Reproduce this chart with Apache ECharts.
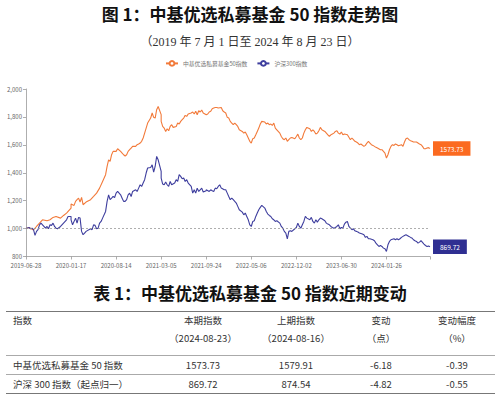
<!DOCTYPE html>
<html>
<head>
<meta charset="utf-8">
<script src="https://cdn.jsdelivr.net/npm/echarts@6/dist/echarts.min.js"></script>
<style>
  html, body { margin: 0; padding: 0; background: #fff; }
  #main { width: 500px; height: 399px; }
</style>
</head>
<body>
<div id="main"></div>
<script>
// tick labels sit every 30 points on the category axis
var tickLabels = ['2019-06-28', '2020-01-17', '2020-08-14', '2021-03-05', '2021-09-24',
  '2022-05-06', '2022-12-02', '2023-06-30', '2024-01-26'];
var lastDate = '2024-08-23';

var seriesNames = ['中基优选私募基金50指数', '沪深300指数'];

// [point index, value]
var fund50 = [[0,1000],[2,1008],[4,995],[5,990],[7,1015],[9,1039],[11,1063],[14,1056],[16,1063],[18,1080],[20,1087],[23,1075],[25,1094],[27,1111],[29,1147],[30,1176],[32,1166],[33,1195],[34,1207],[35,1218],[36,1190],[37,1223],[38,1171],[40,1190],[43,1207],[45,1230],[47,1254],[49,1290],[51,1338],[53,1386],[54,1445],[55,1493],[56,1481],[57,1529],[58,1553],[60,1553],[61,1572],[63,1553],[64,1541],[65,1529],[66,1520],[67,1529],[68,1553],[69,1565],[70,1577],[71,1589],[73,1589],[74,1601],[75,1606],[76,1613],[77,1625],[78,1649],[79,1684],[80,1720],[81,1756],[83,1792],[84,1828],[85,1797],[86,1792],[87,1852],[88,1875],[89,1816],[90,1768],[91,1732],[92,1720],[93,1696],[94,1715],[95,1701],[96,1732],[97,1744],[98,1725],[100,1732],[101,1756],[102,1749],[103,1768],[104,1780],[105,1792],[106,1811],[107,1804],[108,1821],[110,1828],[111,1835],[112,1821],[113,1840],[114,1816],[115,1844],[116,1835],[117,1849],[118,1828],[120,1816],[121,1821],[122,1835],[123,1840],[124,1859],[125,1864],[126,1868],[127,1868],[128,1864],[130,1868],[131,1844],[132,1835],[133,1828],[134,1797],[135,1792],[136,1768],[137,1756],[138,1744],[139,1756],[140,1744],[141,1732],[142,1708],[144,1696],[145,1684],[146,1692],[147,1672],[148,1649],[149,1625],[150,1613],[151,1644],[152,1649],[153,1672],[154,1696],[155,1720],[156,1749],[157,1768],[159,1763],[160,1749],[161,1756],[162,1744],[163,1749],[164,1739],[165,1756],[166,1720],[167,1708],[169,1684],[170,1660],[171,1644],[172,1637],[173,1649],[174,1625],[175,1637],[176,1649],[177,1653],[179,1644],[180,1660],[181,1677],[182,1649],[183,1637],[184,1649],[185,1684],[186,1708],[187,1725],[189,1715],[190,1696],[191,1708],[192,1696],[193,1677],[194,1684],[195,1701],[196,1725],[197,1708],[199,1696],[200,1684],[201,1672],[202,1660],[203,1672],[204,1677],[205,1684],[206,1696],[207,1701],[208,1684],[209,1677],[210,1692],[211,1672],[212,1677],[214,1672],[216,1637],[217,1649],[218,1637],[219,1625],[220,1620],[221,1613],[222,1601],[223,1606],[225,1589],[226,1596],[227,1613],[228,1625],[229,1613],[230,1601],[231,1596],[232,1589],[233,1582],[234,1577],[236,1565],[237,1565],[238,1553],[239,1541],[240,1505],[241,1529],[242,1565],[243,1589],[244,1601],[245,1596],[246,1606],[247,1601],[248,1594],[250,1601],[251,1589],[252,1620],[253,1644],[254,1649],[255,1637],[256,1630],[257,1625],[258,1620],[260,1620],[261,1613],[262,1606],[263,1601],[264,1589],[265,1572],[266,1572],[267,1577],[268,1579.91],[269,1573.73]];

var hs300 = [[0,1000],[2,1008],[3,999],[4,1003],[5,992],[6,951],[7,980],[8,992],[9,1027],[10,1039],[11,1027],[13,1003],[14,1015],[15,999],[16,1027],[17,1023],[18,1039],[19,1015],[20,1003],[21,999],[23,1015],[25,1039],[27,1063],[28,1087],[29,1087],[30,1063],[31,1027],[33,1075],[34,1039],[35,1080],[36,1075],[37,980],[38,956],[39,968],[40,980],[43,999],[44,992],[45,1027],[46,1023],[47,999],[48,1003],[49,1039],[50,1051],[51,1075],[53,1123],[54,1195],[55,1242],[56,1207],[57,1218],[58,1230],[59,1223],[60,1254],[61,1266],[63,1242],[64,1218],[65,1195],[66,1195],[67,1207],[68,1242],[69,1254],[70,1230],[71,1266],[73,1278],[74,1266],[75,1290],[76,1314],[77,1302],[78,1326],[79,1350],[80,1398],[81,1434],[83,1438],[84,1457],[85,1405],[86,1445],[87,1517],[88,1493],[89,1410],[90,1362],[91,1319],[92,1314],[93,1333],[94,1314],[95,1302],[96,1338],[97,1314],[99,1326],[100,1350],[101,1338],[102,1386],[103,1374],[104,1357],[105,1362],[106,1338],[107,1350],[108,1326],[110,1302],[111,1254],[112,1278],[113,1254],[114,1290],[115,1266],[116,1278],[117,1290],[118,1262],[119,1271],[120,1278],[122,1266],[123,1278],[124,1271],[125,1266],[126,1290],[127,1285],[128,1302],[129,1314],[130,1290],[132,1278],[133,1278],[134,1254],[135,1230],[136,1207],[137,1218],[138,1207],[139,1195],[140,1183],[141,1159],[142,1135],[144,1118],[145,1099],[146,1111],[147,1087],[148,1063],[149,1027],[150,1015],[151,1051],[152,1056],[153,1087],[154,1111],[155,1135],[156,1152],[157,1166],[159,1147],[160,1123],[161,1104],[162,1094],[163,1087],[164,1070],[165,1063],[166,1051],[167,1056],[169,1039],[170,1015],[171,1003],[172,980],[173,968],[174,927],[175,980],[176,984],[177,980],[179,999],[180,1008],[181,1039],[182,1015],[183,1003],[184,1027],[185,1051],[186,1087],[187,1075],[189,1063],[190,1080],[191,1051],[192,1039],[193,1063],[194,1046],[195,1063],[196,1075],[197,1070],[199,1056],[200,1039],[201,1032],[202,1027],[203,1015],[204,1008],[205,1003],[206,1008],[207,1015],[208,1027],[209,999],[210,1008],[211,1003],[212,1032],[213,1046],[214,1051],[215,1015],[216,1003],[217,992],[218,999],[219,984],[220,980],[221,975],[222,968],[224,961],[225,956],[226,937],[227,944],[228,927],[229,927],[231,920],[232,913],[233,896],[234,884],[235,872],[236,879],[237,872],[238,860],[239,855],[240,836],[241,884],[242,908],[243,920],[245,927],[246,920],[247,927],[248,920],[249,927],[250,937],[251,944],[252,951],[253,956],[255,944],[256,937],[257,932],[258,920],[259,913],[260,908],[261,896],[262,903],[263,913],[265,889],[266,879],[267,872],[268,874.54],[269,869.72]];

var baseLine = 1000;

var chartTitle = '图 1：中基优选私募基金 50 指数走势图';
var chartSubtitle = '（2019 年 7 月 1 日至 2024 年 8 月 23 日）';
var tableTitle = '表 1：中基优选私募基金 50 指数近期变动';
var tableHead = [['指数', ''], ['本期指数', '（2024-08-23）'], ['上期指数', '（2024-08-16）'],
  ['变动', '（点）'], ['变动幅度', '（%）']];
var tableRows = [
  ['中基优选私募基金 50 指数', '1573.73', '1579.91', '-6.18', '-0.39'],
  ['沪深 300 指数（起点归一）', '869.72', '874.54', '-4.82', '-0.55']
];

// weekly dates, anchored on each tick label
var dates = [];
tickLabels.forEach(function (start) {
  var t0 = new Date(start + 'T00:00:00Z').getTime();
  for (var j = 0; j < 30; j++) {
    dates.push(new Date(t0 + j * 7 * 864e5).toISOString().slice(0, 10));
  }
});
dates[dates.length - 1] = lastDate;

function toSeries(points) {
  return points.map(function (p) { return [dates[p[0]], p[1]]; });
}

var orange = '#F27A3A', orangeBox = '#FB6A20';
var purple = '#3E3E9E', purpleBox = '#2F2F92';
var numFont = "'Liberation Sans Narrow', 'Noto Sans CJK SC', sans-serif";

var graphics = [
  { type: 'text', style: { x: 250, y: 13, text: chartTitle, align: 'center', verticalAlign: 'middle',
      fontSize: 17, fontWeight: 'bold', fontFamily: "'Noto Sans CJK SC', sans-serif", fill: '#111' } },
  { type: 'text', style: { x: 250, y: 42, text: chartSubtitle, align: 'center', verticalAlign: 'middle',
      fontSize: 12, fontFamily: "'Liberation Serif', 'Noto Sans CJK SC', serif", fill: '#333' } },
  { type: 'text', style: { x: 250, y: 292, text: tableTitle, align: 'center', verticalAlign: 'middle',
      fontSize: 17, fontWeight: 'bold', fontFamily: "'Noto Sans CJK SC', sans-serif", fill: '#111' } }
];

var colX = [13, 203, 296, 381, 457];
var ruleY = [311, 355, 374, 393];
ruleY.forEach(function (y, i) {
  graphics.push({ type: 'line', shape: { x1: 6, y1: y + 0.5, x2: 495, y2: y + 0.5 },
    style: { stroke: (i === 0 || i === 3) ? '#777' : '#aaa', lineWidth: 1 } });
});
function cell(text, col, y) {
  graphics.push({ type: 'text', style: { x: colX[col], y: y, text: text,
    align: col === 0 ? 'left' : 'center', verticalAlign: 'middle',
    fontSize: 9.5, fontFamily: numFont, fill: '#333' } });
}
tableHead.forEach(function (h, c) {
  cell(h[0], c, 320);
  if (h[1]) cell(h[1], c, 338);
});
tableRows.forEach(function (row, r) {
  row.forEach(function (v, c) { cell(v, c, 364.5 + r * 19); });
});

var chart = echarts.init(document.getElementById('main'), null, { renderer: 'svg' });

var option = {
  animation: false,
  backgroundColor: '#fff',
  textStyle: { fontFamily: "'Noto Sans CJK SC', sans-serif" },
  legend: {
    top: 55,
    left: 160,
    itemWidth: 12,
    itemHeight: 6,
    itemGap: 9,
    textStyle: { fontSize: 5.8, color: '#777' },
    data: seriesNames
  },
  grid: {
    left: 26, right: 70, top: 89, bottom: 142.5,
    containLabel: false, outerBoundsMode: 'none'
  },
  xAxis: {
    type: 'category',
    boundaryGap: false,
    data: dates,
    axisLine: { lineStyle: { color: '#999', width: 0.8 } },
    axisTick: {
      length: 3,
      lineStyle: { color: '#999', width: 0.8 },
      interval: function (i) { return i % 30 === 0 || i === dates.length - 1; }
    },
    axisLabel: {
      fontSize: 6, color: '#666', margin: 6,
      interval: function (i) { return i % 30 === 0 && i < dates.length - 1; }
    },
    splitLine: { show: false }
  },
  yAxis: {
    type: 'value',
    min: 800,
    max: 2000,
    interval: 200,
    axisLine: { show: true, lineStyle: { color: '#999', width: 0.8 } },
    axisTick: { show: true, length: 3, lineStyle: { color: '#999', width: 0.8 } },
    axisLabel: {
      fontSize: 6, color: '#666', margin: 4,
      formatter: function (v) { return v.toLocaleString('en-US'); }
    },
    splitLine: { show: false }
  },
  series: [
    {
      name: seriesNames[0],
      type: 'line',
      data: toSeries(fund50),
      showSymbol: false,
      color: orange,
      lineStyle: { width: 1.1 },
      endLabel: {
        show: true, distance: 3,
        formatter: function (p) { return p.value[1].toFixed(2); },
        backgroundColor: orangeBox, color: '#fff', fontSize: 6.5,
        padding: [4, 7]
      },
      markLine: {
        silent: true,
        symbol: 'none',
        label: { show: false },
        lineStyle: { color: '#999', type: [2, 2], width: 0.8 },
        data: [{ yAxis: baseLine }]
      }
    },
    {
      name: seriesNames[1],
      type: 'line',
      data: toSeries(hs300),
      showSymbol: false,
      color: purple,
      lineStyle: { width: 1.1 },
      endLabel: {
        show: true, distance: 3,
        formatter: function (p) { return p.value[1].toFixed(2); },
        backgroundColor: purpleBox, color: '#fff', fontSize: 6.5,
        padding: [4, 7]
      }
    }
  ],
  graphic: graphics
};

chart.setOption(option);
</script>
</body>
</html>
